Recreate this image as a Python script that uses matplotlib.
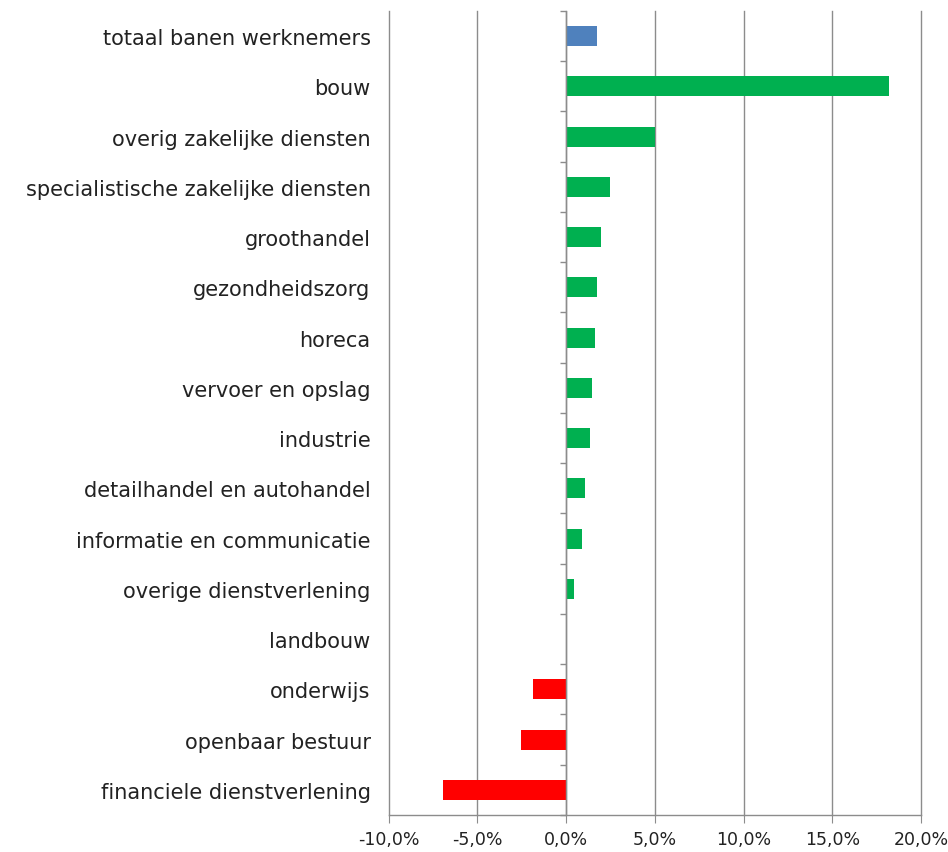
import numpy as np
import matplotlib.pyplot as plt
from matplotlib.ticker import FuncFormatter

# categories top to bottom, growth of jobs in %
categories = ['totaal banen werknemers', 'bouw', 'overig zakelijke diensten',
              'specialistische zakelijke diensten', 'groothandel', 'gezondheidszorg',
              'horeca', 'vervoer en opslag', 'industrie', 'detailhandel en autohandel',
              'informatie en communicatie', 'overige dienstverlening', 'landbouw',
              'onderwijs', 'openbaar bestuur', 'financiele dienstverlening']
values = [1.75, 18.2, 5.0, 2.5, 1.95, 1.75, 1.6, 1.45, 1.35, 1.05,
          0.9, 0.45, 0.0, -1.85, -2.55, -6.95]

blue = '#4F81BD'
green = '#00B050'
red = '#FF0000'
colors = [blue if i == 0 else (green if v >= 0 else red) for i, v in enumerate(values)]

fig = plt.figure(figsize=(9.48, 8.53), dpi=100)
ax = fig.add_axes([0.410, 0.0434, 0.5615, 0.9426])

ys = np.arange(len(categories))
ax.barh(ys, values, height=0.4, color=colors, zorder=3)

ax.set_xlim(-10, 20)
ax.set_ylim(len(categories) - 0.5, -0.5)
ax.set_xticks(np.arange(-10, 21, 5))
ax.xaxis.set_major_formatter(FuncFormatter(lambda v, p: f'{v:.1f}%'.replace('.', ',')))

# vertical gridlines
ax.grid(axis='x', color='#8C8C8C', linewidth=1.0, zorder=0)
for gl in ax.get_xgridlines():
    gl.set_clip_on(False)

for s in ['top', 'right', 'left']:
    ax.spines[s].set_visible(False)
ax.spines['bottom'].set_color('#8C8C8C')
ax.spines['bottom'].set_linewidth(1.0)
ax.tick_params(axis='x', direction='out', length=6, color='#8C8C8C',
               labelsize=12.5, labelcolor='#222222', pad=5)

ax.set_yticks(ys)
ax.set_yticklabels(categories, fontsize=15, color='#222222')
ax.tick_params(axis='y', length=0, pad=13)

# vertical axis at 0 with tick marks between categories
ax.axvline(0, color='#8C8C8C', linewidth=1.0, zorder=4)
bounds = np.arange(len(categories) + 1) - 0.5
ax.hlines(bounds, -0.35, 0, color='#8C8C8C', linewidth=1.0, zorder=4, clip_on=False)

fig.savefig('out.png', dpi=100)
